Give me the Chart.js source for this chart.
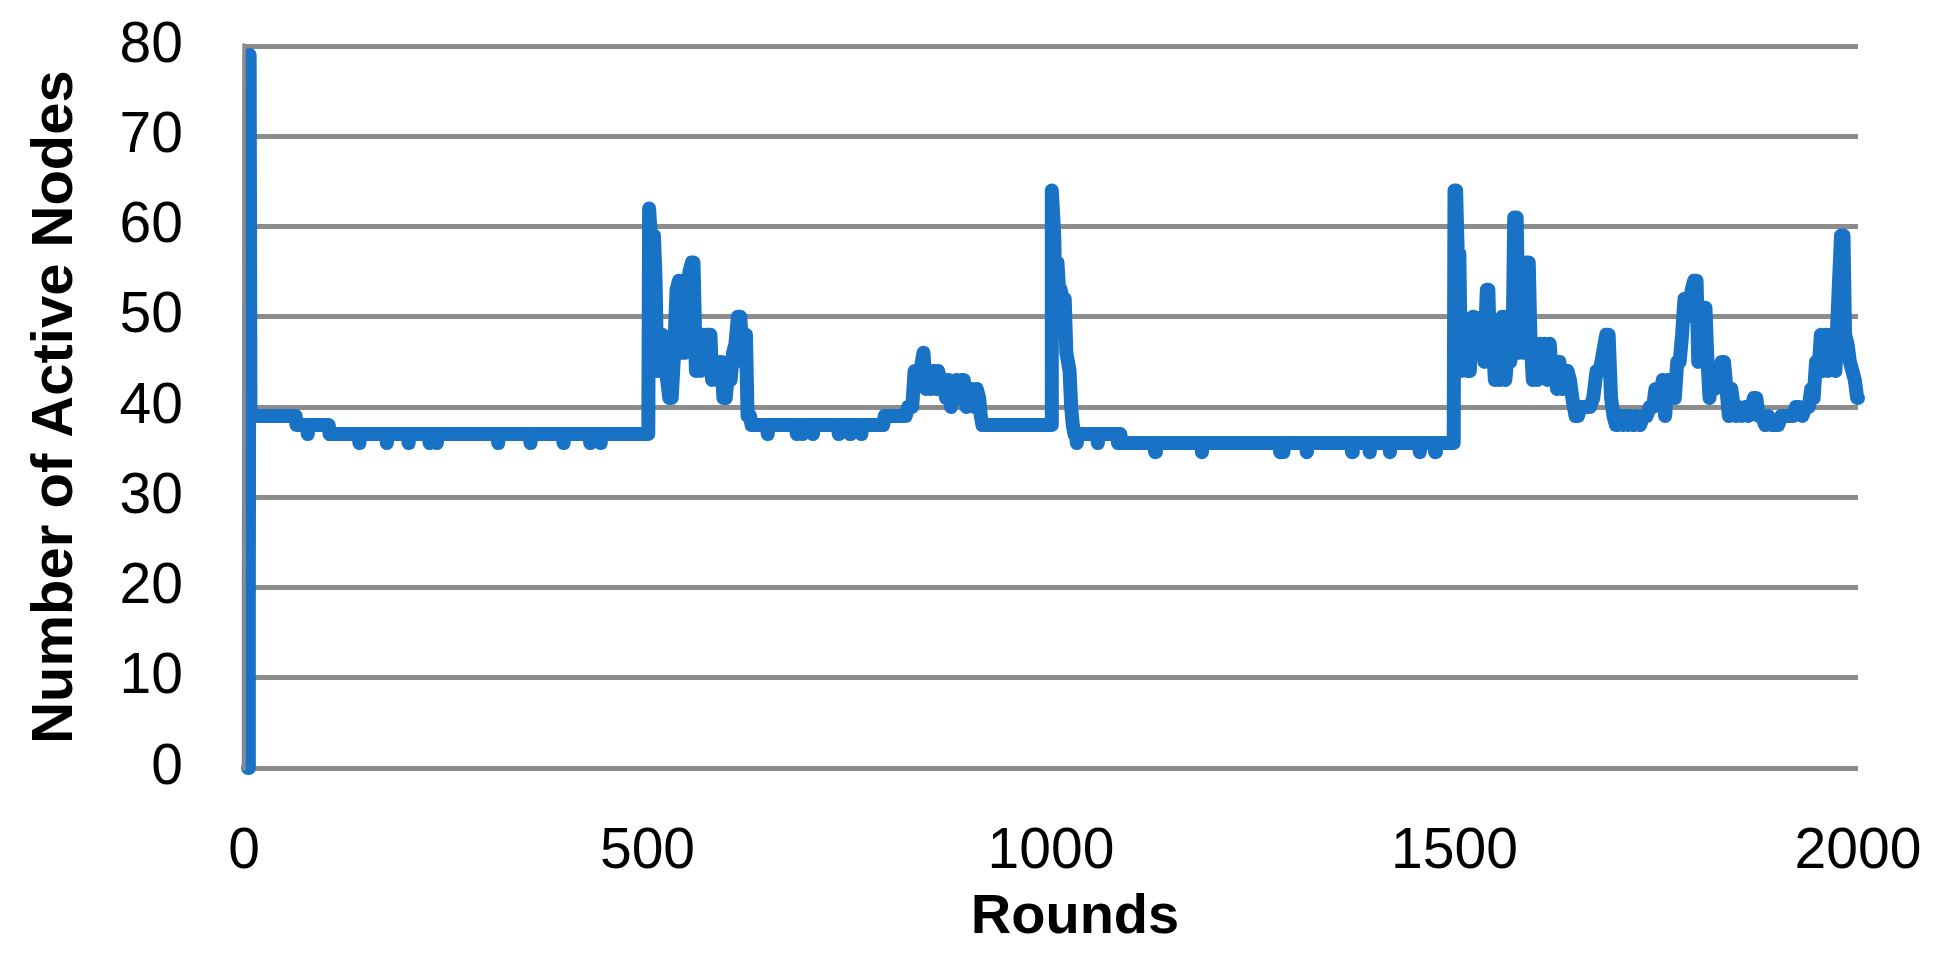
<!DOCTYPE html>
<html lang="en">
<head>
    <meta charset="UTF-8">
    <title>Active Nodes per Round</title>
    <script src="https://cdn.jsdelivr.net/npm/chart.js"></script>
    <style>
        * {
            margin: 0;
            padding: 0;
            box-sizing: border-box;
        }

        body {
            background: #ffffff;
        }

        .chart-box {
            width: 1945px;
            height: 963px;
            position: relative;
        }
    </style>
</head>
<body>

    <div class="chart-box">
        <canvas id="nodesChart"></canvas>
    </div>

    <script>
        // rounds where the curve changes, and the number of active nodes there
        const rounds = [
            5, 6, 7, 8, 64, 65, 78, 79, 80, 105, 106,
            142, 143, 144, 176, 177, 178, 203, 204, 205, 229, 230, 231, 238, 239, 240,
            314, 315, 316, 354, 355, 356, 395, 396, 397, 428, 429, 430, 441, 442, 443, 501,
            502, 504, 506, 508, 510, 512, 514, 516, 518, 520, 523, 527, 530, 533, 536, 539,
            541, 543, 546, 549, 552, 555, 557, 560, 563, 566, 569, 572, 575, 578, 580, 583,
            586, 589, 592, 594, 597, 600, 603, 606, 609, 612, 615, 618, 620, 622, 624, 627, 629,
            648, 649, 650, 684, 685, 686, 691, 692, 693, 704, 705, 706, 736, 737, 738,
            750, 751, 752, 764, 765, 766, 792, 794, 820, 823, 828, 831, 834, 838, 842, 845,
            848, 851, 855, 858, 860, 863, 866, 870, 873, 876, 879, 883, 886, 889, 892, 895,
            898, 902, 905, 908, 911, 913, 915, 1000,
            1001, 1004, 1006, 1008, 1010, 1012, 1014, 1017, 1019, 1021, 1023, 1025, 1027, 1029,
            1031, 1032, 1033, 1057, 1058, 1059, 1082, 1083, 1084, 1086, 1087,
            1128, 1129, 1130, 1186, 1187, 1188, 1283, 1284, 1285, 1287, 1288, 1289,
            1316, 1317, 1318, 1372, 1373, 1374, 1394, 1395, 1396, 1419, 1420, 1421,
            1456, 1457, 1458, 1475, 1476, 1477, 1499,
            1500, 1502, 1504, 1506, 1508, 1510, 1512, 1514, 1516, 1519, 1521, 1523, 1525, 1528,
            1531, 1534, 1537, 1540, 1542, 1544, 1547, 1550, 1553, 1556, 1559, 1561, 1563, 1566,
            1569, 1572, 1574, 1577, 1580, 1583, 1586, 1589, 1592, 1594, 1597, 1600, 1603, 1606,
            1609, 1612, 1615, 1618, 1621, 1624, 1627, 1630, 1633, 1636, 1640, 1643, 1646, 1650,
            1653, 1656, 1660, 1664, 1668, 1672, 1676, 1680, 1684, 1688, 1691, 1694, 1697, 1700,
            1703, 1706, 1709, 1712, 1715, 1718, 1722, 1726, 1730, 1734, 1738, 1742, 1746, 1749,
            1752, 1755, 1758, 1761, 1764, 1767, 1770, 1773, 1776, 1779, 1782, 1785, 1788, 1791,
            1794, 1797, 1800, 1802, 1805, 1808, 1811, 1813, 1816, 1819, 1822, 1825, 1828, 1831,
            1834, 1837, 1840, 1843, 1846, 1849, 1852, 1856, 1860, 1864, 1868, 1871, 1874, 1877,
            1881, 1885, 1889, 1893, 1897, 1901, 1905, 1910, 1915, 1919, 1923, 1927, 1931, 1935,
            1939, 1942, 1945, 1948, 1951, 1954, 1957, 1960, 1963, 1966, 1969, 1972, 1976, 1979,
            1982, 1984, 1987, 1990, 1993, 1996, 1999, 2000
        ];

        const activeNodes = [
            0, 19, 79, 39, 39, 38, 38, 37, 38, 38, 37,
            37, 36, 37, 37, 36, 37, 37, 36, 37, 37, 36, 37, 37, 36, 37,
            37, 36, 37, 37, 36, 37, 37, 36, 37, 37, 36, 37, 37, 36, 37, 37,
            62, 59, 44, 59, 54, 44, 48, 44, 48, 47, 44, 41, 41, 46, 53, 54,
            46, 54, 46, 47, 55, 56, 56, 44, 47, 44, 48, 47, 48, 48, 43, 45,
            43, 45, 45, 41, 41, 44, 43, 46, 47, 50, 50, 45, 48, 48, 39, 39, 38,
            38, 37, 38, 38, 37, 38, 38, 37, 38, 38, 37, 38, 38, 37, 38,
            38, 37, 38, 38, 37, 38, 38, 39, 39, 40, 40, 44, 43, 44, 46, 42,
            44, 42, 44, 42, 44, 43, 43, 41, 43, 40, 42, 43, 41, 43, 43, 40,
            41, 42, 40, 42, 41, 39, 38, 38,
            64, 59, 49, 56, 53, 53, 52, 52, 46, 45, 44, 40, 38, 37,
            37, 36, 37, 37, 36, 37, 37, 36, 37, 37, 36,
            36, 35, 36, 36, 35, 36, 36, 35, 36, 36, 35, 36,
            36, 35, 36, 36, 35, 36, 36, 35, 36, 36, 35, 36,
            36, 35, 36, 36, 35, 36, 36,
            64, 64, 57, 57, 44, 50, 45, 48, 44, 44, 49, 50, 46, 48,
            46, 50, 45, 53, 53, 45, 48, 43, 46, 43, 50, 50, 43, 46,
            45, 47, 61, 61, 46, 48, 46, 56, 56, 48, 43, 47, 43, 47,
            44, 47, 43, 47, 43, 45, 42, 45, 42, 44, 44, 43, 41, 39,
            39, 40, 40, 40, 40, 41, 44, 44, 46, 48, 48, 41, 39, 38,
            38, 39, 38, 39, 38, 39, 38, 39, 38, 39, 39, 40, 40, 42,
            42, 41, 43, 39, 43, 41, 43, 41, 45, 45, 48, 52, 50, 51,
            53, 54, 54, 45, 51, 51, 51, 46, 41, 44, 42, 44, 43, 45,
            45, 42, 39, 42, 40, 39, 40, 39, 40, 39, 40, 41, 41, 39,
            39, 38, 39, 38, 38, 38, 39, 39, 39, 39, 40, 40, 39, 40,
            40, 42, 41, 45, 44, 48, 44, 48, 44, 48, 45, 44, 53, 59,
            59, 48, 47, 45, 44, 43, 41, 41
        ];

        const xTicks = [0, 500, 1000, 1500, 2000];
        const yTicks = [0, 10, 20, 30, 40, 50, 60, 70, 80];
        const xTitle = 'Rounds';
        const yTitle = 'Number of Active Nodes';

        Chart.defaults.font.family = '"Liberation Sans", Arial, sans-serif';
        Chart.defaults.color = '#000000';

        const gridGray = '#8c8c8c';

        // Excel draws the vertical axis line above the series,
        // and its x title sits a little right of the plot centre
        const excelTouches = {
            id: 'excelTouches',
            afterDatasetsDraw(chart) {
                const { ctx, scales } = chart;
                const x = scales.x.getPixelForValue(0);
                ctx.save();
                ctx.strokeStyle = gridGray;
                ctx.lineWidth = 3.5;
                ctx.beginPath();
                ctx.moveTo(x, scales.y.getPixelForValue(80) - 2.5);
                ctx.lineTo(x, scales.y.getPixelForValue(0) + 2.5);
                ctx.stroke();
                ctx.restore();
            },
            afterDraw(chart) {
                const { ctx, chartArea } = chart;
                ctx.save();
                ctx.font = 'bold 56px "Liberation Sans", Arial, sans-serif';
                ctx.fillStyle = '#000000';
                ctx.textAlign = 'center';
                ctx.textBaseline = 'middle';
                ctx.fillText(xTitle, (chartArea.left + chartArea.right) / 2 + 24, chart.height - 45);
                ctx.restore();
            }
        };

        const points = rounds.map((r, i) => ({ x: r, y: activeNodes[i] }));

        new Chart(document.getElementById('nodesChart'), {
            type: 'line',
            data: {
                datasets: [{
                    label: 'Active Nodes',
                    data: points,
                    borderColor: '#1872c6',
                    borderWidth: 14,
                    borderCapStyle: 'round',
                    borderJoinStyle: 'round',
                    pointRadius: 0,
                    tension: 0,
                    fill: false,
                    clip: false
                }]
            },
            options: {
                responsive: true,
                maintainAspectRatio: false,
                animation: false,
                layout: {
                    padding: { top: 46, right: 87, bottom: 0, left: 0 }
                },
                plugins: {
                    legend: { display: false },
                    tooltip: { enabled: false }
                },
                scales: {
                    x: {
                        type: 'linear',
                        min: xTicks[0],
                        max: xTicks[xTicks.length - 1],
                        afterBuildTicks: (scale) => { scale.ticks = xTicks.map(v => ({ value: v })); },
                        afterFit: (scale) => { scale.height = 195; },
                        // spacing below the plot goes into an invisible tick length,
                        // tick padding would also squeeze the plot sideways
                        grid: { display: false, drawTicks: true, tickLength: 47 },
                        border: { display: false },
                        ticks: {
                            padding: 3,
                            maxRotation: 0,
                            font: { size: 57 },
                            callback: (v) => String(v)
                        },
                        title: { display: false, text: xTitle }
                    },
                    y: {
                        min: yTicks[0],
                        max: yTicks[yTicks.length - 1],
                        afterBuildTicks: (scale) => { scale.ticks = yTicks.map(v => ({ value: v })); },
                        afterFit: (scale) => { scale.width = 244; },
                        grid: {
                            color: gridGray,
                            lineWidth: 5,
                            drawTicks: true,
                            tickLength: 58,
                            tickColor: 'rgba(0, 0, 0, 0)'
                        },
                        border: { display: false },
                        ticks: {
                            padding: 3,
                            font: { size: 57 }
                        },
                        title: {
                            display: true,
                            text: yTitle,
                            font: { size: 58, weight: 'bold' },
                            padding: { top: 21, bottom: 0 }
                        }
                    }
                }
            },
            plugins: [excelTouches]
        });
    </script>

</body>
</html>
